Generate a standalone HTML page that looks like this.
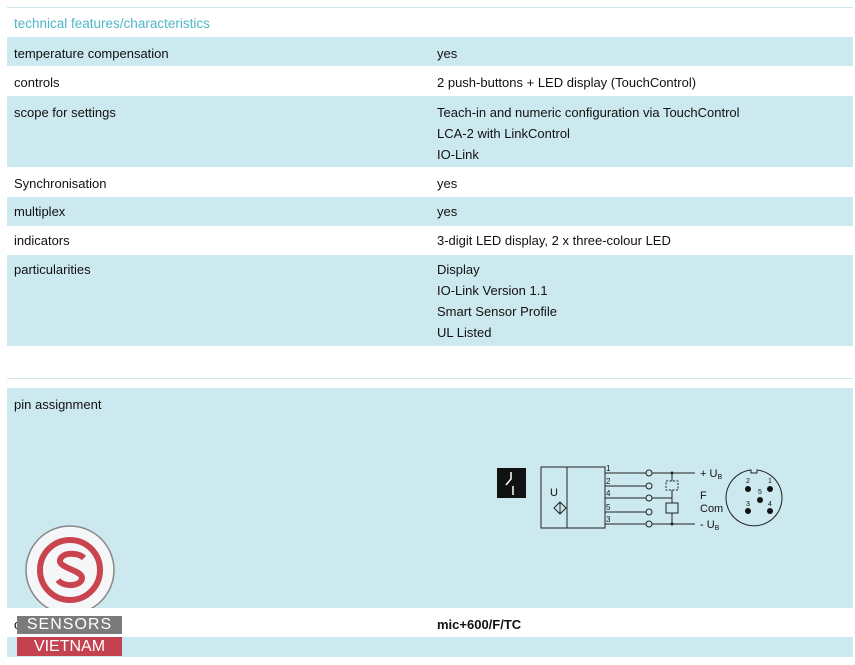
<!DOCTYPE html>
<html><head><meta charset="utf-8"><style>
body{margin:0;width:855px;height:665px;background:#fff;position:relative;overflow:hidden;font-family:"Liberation Sans",sans-serif;font-size:13px;color:#111}
.r{position:absolute;left:7px;width:846px}
.b{background:#cde9f0}
.t{position:absolute;left:14px;line-height:21px}
.v{position:absolute;left:437px;line-height:21px}
.ln{position:absolute;left:7px;width:846px;height:1px;background:#cde6ec}
</style></head><body>
<div class="ln" style="top:7px"></div>
<div class="t" style="top:13px;color:#4fb7c9;font-size:13.5px">technical features/characteristics</div>

<div class="r b" style="top:37px;height:29px"></div>
<div class="t" style="top:43px">temperature compensation</div><div class="v" style="top:43px">yes</div>
<div class="t" style="top:72px">controls</div><div class="v" style="top:72px">2 push-buttons + LED display (TouchControl)</div>
<div class="r b" style="top:96px;height:71px"></div>
<div class="t" style="top:102px">scope for settings</div>
<div class="v" style="top:102px">Teach-in and numeric configuration via TouchControl<br>LCA-2 with LinkControl<br>IO-Link</div>
<div class="t" style="top:173px">Synchronisation</div><div class="v" style="top:173px">yes</div>
<div class="r b" style="top:197px;height:29px"></div>
<div class="t" style="top:201px">multiplex</div><div class="v" style="top:201px">yes</div>
<div class="t" style="top:230px">indicators</div><div class="v" style="top:230px">3-digit LED display, 2 x three-colour LED</div>
<div class="r b" style="top:255px;height:91px"></div>
<div class="t" style="top:259px">particularities</div>
<div class="v" style="top:259px">Display<br>IO-Link Version 1.1<br>Smart Sensor Profile<br>UL Listed</div>

<div class="ln" style="top:378px"></div>
<div class="r b" style="top:388px;height:220px"></div>
<div class="t" style="top:394px">pin assignment</div>

<svg style="position:absolute;left:0;top:0" width="855" height="665">
<rect x="497" y="468" width="29" height="30" fill="#111"/>
<path d="M511 472v7l-5 6M513 486v9" stroke="#fff" stroke-width="1.5" fill="none"/>
<g stroke="#222" stroke-width="1" fill="none">
<rect x="541" y="467" width="64" height="61"/>
<line x1="567" y1="467" x2="567" y2="528"/>
<path d="M554 508l6-6 6 6-6 6z M560 502v12"/>
<line x1="605" y1="473" x2="695" y2="473"/>
<line x1="605" y1="486" x2="647" y2="486"/>
<line x1="605" y1="498" x2="672" y2="498"/>
<line x1="605" y1="512" x2="647" y2="512"/>
<line x1="605" y1="524" x2="695" y2="524"/>
<line x1="672" y1="473" x2="672" y2="481"/>
<rect x="666" y="481" width="12" height="9" stroke-dasharray="2,1.5"/>
<line x1="672" y1="490" x2="672" y2="503"/>
<rect x="666" y="503" width="12" height="10"/>
<line x1="672" y1="513" x2="672" y2="524"/>
<g fill="#cde9f0"><circle cx="649" cy="473" r="3"/><circle cx="649" cy="486" r="3"/><circle cx="649" cy="498" r="3"/><circle cx="649" cy="512" r="3"/><circle cx="649" cy="524" r="3"/></g>
<path d="M751 470 A28 28 0 1 0 757 470 L757 473 L751 473 Z"/>
</g>
<circle cx="672" cy="473" r="1.5" fill="#222"/><circle cx="672" cy="524" r="1.5" fill="#222"/>
<g fill="#111"><circle cx="748" cy="489" r="3"/><circle cx="770" cy="489" r="3"/><circle cx="760" cy="500" r="3"/><circle cx="748" cy="511" r="3"/><circle cx="770" cy="511" r="3"/></g>
<g font-family="Liberation Sans,sans-serif" font-size="8" fill="#111">
<text x="606" y="471">1</text><text x="606" y="484">2</text><text x="606" y="496">4</text><text x="606" y="510">5</text><text x="606" y="522">3</text>
<text x="746" y="483" font-size="7">2</text><text x="768" y="483" font-size="7">1</text><text x="758" y="494" font-size="7">5</text><text x="746" y="506" font-size="7">3</text><text x="768" y="506" font-size="7">4</text>
</g>
<g font-family="Liberation Sans,sans-serif" font-size="11" fill="#111">
<text x="550" y="496">U</text>
<text x="700" y="477">+ U<tspan font-size="7" dy="2">B</tspan></text>
<text x="700" y="499">F</text>
<text x="700" y="512">Com</text>
<text x="700" y="528">- U<tspan font-size="7" dy="2">B</tspan></text>
</g>
<!-- logo -->
<circle cx="70" cy="570" r="44" fill="#f4f6f7" stroke="#888" stroke-width="1.5"/>
<circle cx="70" cy="570" r="30" fill="none" stroke="#c9444f" stroke-width="6"/>
<path d="M84 558c-6-6-22-6-24 2s22 10 22 18-18 10-24 2" stroke="#c9444f" stroke-width="6" fill="none"/>
<text x="37" y="573" fill="#c9444f" font-size="8">★</text><text x="97" y="573" fill="#c9444f" font-size="8">★</text>
</svg>

<div class="r" style="top:608px;height:29px;background:#fff"></div>
<div class="t" style="top:614px">order no.</div>
<div class="v" style="top:614px;font-weight:bold">mic+600/F/TC</div>
<div class="r b" style="top:637px;height:20px"></div>
<div style="position:absolute;left:17px;top:616px;width:105px;height:18px;background:#7b7b7b;color:#fff;font-size:16px;line-height:18px;text-align:center;letter-spacing:1px">SENSORS</div>
<div style="position:absolute;left:17px;top:637px;width:105px;height:19px;background:#c4424f;color:#fff;font-size:16px;line-height:19px;text-align:center">VIETNAM</div>
</body></html>
